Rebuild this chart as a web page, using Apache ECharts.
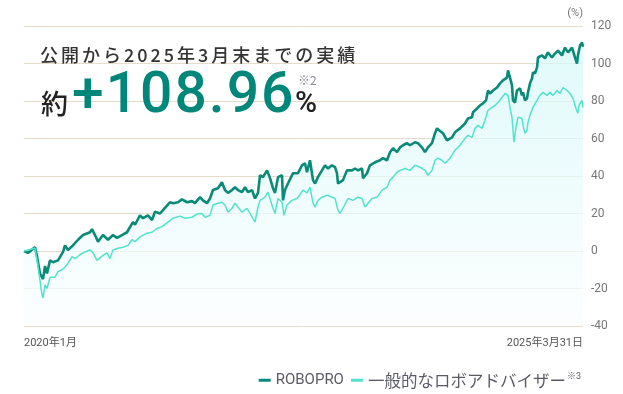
<!DOCTYPE html>
<html>
<head>
<meta charset="utf-8">
<script src="https://cdn.jsdelivr.net/npm/echarts@6/dist/echarts.min.js"></script>
<style>
html,body{margin:0;padding:0;background:#fff;}
#c{width:623px;height:394px;}
</style>
</head>
<body>
<div id="c"></div>
<script>
// months since Jan 2020 (63 = 2025-03-31), cumulative return (%)
const robopro = [[0,0],[0.45,-1],[1.24,2],[1.47,-3],[1.8,-12],[2.14,-15],[2.37,-8],[2.59,-12],[2.93,-5],[3.27,-6],[3.83,-5],[4.4,-0.5],[4.62,3],[4.96,0.5],[5.52,3],[6.09,6],[6.65,8.5],[7.44,10],[7.66,11.7],[8,8.5],[8.34,5],[8.9,8.5],[9.47,6],[10.03,8.5],[10.48,7],[11.04,8.5],[11.61,10],[11.95,12.8],[12.28,15.4],[12.51,14],[13.07,19],[13.41,17.5],[13.97,19],[14.43,16.5],[14.76,21],[15.33,20],[15.89,23],[16.45,26],[16.79,25.5],[17.36,26],[17.81,27.5],[18.37,26],[18.93,26.6],[19.27,25.5],[19.84,28.7],[20.17,27],[20.62,25.5],[20.96,28],[21.3,32.5],[21.86,33.5],[22.31,36.7],[22.65,32.5],[22.99,31],[23.44,32.5],[23.78,34],[24.12,32.5],[24.57,31.4],[24.91,34],[25.24,31.4],[25.7,32.5],[26.03,28],[26.37,31],[26.6,40.4],[26.94,39.4],[27.39,43],[27.72,39],[28.06,33.5],[28.29,31],[28.63,39.4],[29.08,40.4],[29.19,27],[29.41,32.5],[29.75,36],[30.32,41.5],[30.88,41.5],[31.33,45.7],[31.67,46.8],[31.89,42],[32.23,48.4],[32.57,37.8],[32.8,36],[33.13,39.4],[33.58,43],[33.92,45.7],[34.26,44],[34.71,45.7],[35.05,44.7],[35.27,41.5],[35.39,36],[35.61,35],[35.95,37.8],[36.4,43],[36.97,43],[37.3,44],[37.64,43],[38.09,44],[38.21,38.8],[38.66,41.5],[38.99,45.7],[39.56,47.3],[40.12,48.4],[40.46,49.5],[40.91,48.4],[41.25,52.7],[41.59,54.8],[42.04,52.7],[42.38,55.3],[42.71,56.4],[43.16,57.5],[43.5,56.4],[44.07,58],[44.4,57.5],[44.85,55.3],[45.19,52.7],[45.53,55.3],[45.98,57.5],[46.32,62.8],[46.55,65.4],[46.88,64],[47.22,62.8],[47.67,59],[47.78,58],[48.24,60.6],[48.57,63.3],[49.14,65.4],[49.7,68],[50.04,70.7],[50.49,71.3],[50.6,74],[51.05,76],[51.39,77.6],[51.73,78.7],[52.07,80.3],[52.29,85.6],[52.52,84],[52.86,85.6],[53.31,87.2],[53.65,89.4],[53.98,91],[54.43,92.5],[54.55,96.3],[54.77,92.5],[55,88.3],[55.11,80.3],[55.34,79.2],[55.56,85.6],[55.9,86.7],[56.12,83],[56.24,84.6],[56.46,80.3],[56.69,81.4],[56.8,84.6],[57.03,89.4],[57.25,92],[57.36,95.2],[57.59,94.7],[57.82,97.9],[57.93,103.2],[58.38,104.3],[58.71,102.7],[59.05,105.9],[59.5,103.2],[59.84,105.3],[60.18,106.9],[60.63,104.3],[60.97,108.5],[61.31,105.9],[61.76,108.5],[62.1,103.2],[62.32,100],[62.43,104.3],[62.66,109.6],[62.89,111.2],[63,108.96]];

const roboAdvisor = [[0,0],[1.24,1.5],[1.58,-8],[2.03,-23.5],[2.14,-25],[2.37,-18],[2.59,-20],[2.93,-14],[3.49,-14],[3.83,-11],[4.28,-10],[4.62,-8.5],[4.96,-6.5],[5.41,-3],[5.75,-4],[6.31,-2],[6.87,-0.5],[7.44,0.5],[7.78,-1],[8.23,-5],[8.79,-2.7],[9.35,-1],[9.69,-4],[10.03,0.5],[10.59,1.5],[11.16,2],[11.72,3],[12.17,6],[12.51,5],[13.07,7.5],[13.86,9.5],[14.43,10],[14.99,12],[15.55,13],[16.12,15],[16.79,17.5],[17.58,18.6],[18.14,17.5],[18.93,18],[19.5,19.7],[20.06,20],[20.4,18],[20.96,19],[21.3,24.5],[21.86,25.5],[22.31,26],[22.65,24.5],[22.99,20.7],[23.44,22.8],[23.78,25.5],[24.12,23.4],[24.57,20.7],[25.13,22.8],[25.47,20],[26.03,15.4],[26.37,23.4],[26.6,27],[27.16,28.7],[27.5,31.4],[27.72,28],[28.06,22.8],[28.29,20],[28.63,28],[29.08,26],[29.3,19],[29.64,24.5],[30.2,27],[30.77,28],[31.1,30],[31.44,32.5],[31.89,31],[32.23,34],[32.57,25.5],[32.8,23.4],[33.13,27],[33.58,28.7],[34.15,29.8],[34.71,28.7],[35.05,28],[35.39,21.8],[35.61,20],[35.95,22.8],[36.52,28],[37.08,27],[37.64,28.7],[38.09,28],[38.43,23.4],[38.77,25.5],[39.22,28],[39.78,28.7],[40.35,32.5],[40.91,34],[41.25,37.8],[41.59,39.4],[42.04,42],[42.38,43],[42.94,44],[43.5,43],[44.07,45.7],[44.63,44.7],[45.19,43],[45.53,40.4],[45.98,43],[46.32,48.4],[46.66,49.5],[47.11,48.4],[47.45,46.8],[48.01,49.5],[48.57,53.7],[49.14,56.4],[49.7,60.1],[50.04,61.7],[50.49,60.6],[50.83,65.4],[51.17,67],[51.62,65.4],[51.96,69.7],[52.29,75],[52.74,76.6],[53.08,77.6],[53.42,79.2],[53.87,81.9],[54.21,84],[54.43,84.6],[54.55,83],[54.77,76.6],[55,71.3],[55.11,64.4],[55.22,58],[55.45,66],[55.67,71.3],[56.12,70.7],[56.24,67],[56.46,62.8],[56.69,64.4],[56.8,68.6],[57.03,72.4],[57.36,76.6],[57.82,80.3],[58.15,83],[58.49,84.6],[58.94,83],[59.28,84.6],[59.62,83],[60.07,85.6],[60.41,84],[60.75,87.2],[61.2,85.6],[61.54,84],[61.88,81.4],[62.21,76],[62.43,73.5],[62.55,77.6],[62.89,80.3],[63,76.6]];

const seriesNames = ['ROBOPRO', '一般的なロボアドバイザー'];
const xTickLabels = { 0: '2020年1月', 63: '2025年3月31日' };
const yTicks = { min: -40, max: 120, step: 20 };
const yUnit = '(%)';
const headline = '公開から2025年3月末までの実績';
const resultPrefix = '約';
const resultValue = '+108.96';
const resultUnit = '%';
const note2 = '※2';
const note3 = '※3';

const DARK = '#0a8b78';
const LIGHT = '#52e3cd';
const BIG = '#00877a';

const chart = echarts.init(document.getElementById('c'), null, { renderer: 'canvas' });

const headRich = Array.from(headline).map(ch => '{c|' + ch + '}').join('');
const bigRich = Array.from(resultValue).map(ch => '{d|' + ch + '}').join('');

chart.setOption({
  animation: false,
  backgroundColor: '#ffffff',
  grid: { left: 24, right: 40, top: 26, bottom: 68, containLabel: false },
  xAxis: {
    type: 'value', min: 0, max: 63, interval: 63,
    axisLine: { show: false }, axisTick: { show: false }, splitLine: { show: false },
    axisLabel: {
      color: '#555', fontSize: 11, margin: 12,
      fontFamily: 'Roboto, "Noto Sans CJK JP", sans-serif',
      formatter: v => xTickLabels[v] || '',
      alignMinLabel: 'left', alignMaxLabel: 'right'
    }
  },
  yAxis: {
    type: 'value', position: 'right', min: yTicks.min, max: yTicks.max, interval: yTicks.step,
    axisLine: { show: false }, axisTick: { show: false },
    axisLabel: { color: '#777', fontSize: 12, margin: 8, fontFamily: 'Roboto, sans-serif' },
    splitLine: { lineStyle: { color: '#e6dccb', width: 1 } }
  },
  legend: {
    right: 37, top: 367,
    icon: 'rect', itemWidth: 12, itemHeight: 3, itemGap: 7,
    data: seriesNames,
    formatter: name => name === seriesNames[1] ? '{j|' + name + '}{s|' + note3 + '}' : name,
    textStyle: {
      color: '#5b5b66', fontSize: 15, fontFamily: 'Roboto, "Noto Sans CJK JP", sans-serif',
      rich: {
        j: { fontSize: 16.5, color: '#5b5b66', fontFamily: '"Noto Sans CJK JP", sans-serif' },
        s: { fontSize: 9, color: '#5b5b66', verticalAlign: 'top', padding: [0, 0, 4, 1] }
      }
    }
  },
  graphic: [
    { type: 'text', right: 40, top: 8, z: 10,
      style: { text: yUnit, fill: '#777', fontSize: 11, fontFamily: 'Roboto, sans-serif' } },
    { type: 'text', left: 40, top: 46, z: 10,
      style: { text: headRich, fill: '#333',
        rich: { c: { fontSize: 18, fontWeight: 500, fill: '#333', padding: [0, 1.5, 0, 1.5], fontFamily: '"Noto Sans CJK JP", sans-serif' } } } },
    { type: 'text', left: 41, top: 90, z: 10,
      style: { text: resultPrefix, fill: '#222', fontSize: 27, fontWeight: 500, fontFamily: '"Noto Sans CJK JP", sans-serif' } },
    { type: 'text', left: 72, top: 69, z: 10,
      style: { text: bigRich, fill: BIG,
        rich: { d: { fontSize: 57, fontWeight: 500, fill: BIG, padding: [0, 1.0, 0, 1.0], fontFamily: 'Roboto, sans-serif' } } } },
    { type: 'text', left: 295, top: 89, z: 10,
      style: { text: resultUnit, fill: '#222', fontSize: 30, fontWeight: 500, fontFamily: 'Roboto, sans-serif' } },
    { type: 'text', left: 298, top: 74, z: 10,
      style: { text: note2, fill: '#8a8a95', fontSize: 12, fontFamily: '"Noto Sans CJK JP", sans-serif' } }
  ],
  series: [
    {
      name: seriesNames[0], type: 'line', data: robopro, showSymbol: false, symbol: 'none',
      lineStyle: { color: DARK, width: 2.6 }, itemStyle: { color: DARK },
      areaStyle: {
        origin: 'start',
        color: new echarts.graphic.LinearGradient(0, 0, 0, 1, [
          { offset: 0, color: '#d4f8f8' },
          { offset: 1, color: '#fbfefe' }
        ])
      },
      z: 2
    },
    {
      name: seriesNames[1], type: 'line', data: roboAdvisor, showSymbol: false, symbol: 'none',
      lineStyle: { color: LIGHT, width: 1.5 }, itemStyle: { color: LIGHT },
      z: 3
    }
  ]
});
</script>
</body>
</html>
